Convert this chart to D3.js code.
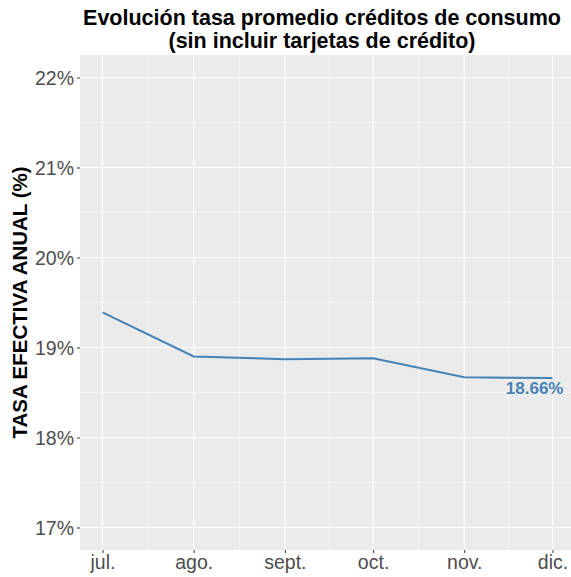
<!DOCTYPE html>
<html>
<head>
<meta charset="utf-8">
<script src="https://cdn.jsdelivr.net/npm/d3@7"></script>
<style>
  body { margin: 0; background: #fff; }
  text { font-family: "Liberation Sans", Arial, sans-serif; }
</style>
</head>
<body>
<div id="chart"></div>
<script>
// data
var months = ["2023-07-01", "2023-08-01", "2023-09-01", "2023-10-01", "2023-11-01", "2023-12-01"];
var monthLabels = ["jul.", "ago.", "sept.", "oct.", "nov.", "dic."];
var rates = [19.39, 18.90, 18.87, 18.88, 18.67, 18.66];
var yTicks = [17, 18, 19, 20, 21, 22];
var lastLabel = "18.66%";

var parse = d3.timeParse("%Y-%m-%d");
var dates = months.map(parse);

var width = 571, height = 577;
var margin = { top: 55, right: -4, bottom: 27, left: 80 };
var pw = width - margin.left - margin.right,
    ph = height - margin.top - margin.bottom;

var svg = d3.select("#chart")
            .append("svg")
            .attr("width", width)
            .attr("height", height);

// x: time scale with 5% expansion
var span = dates[dates.length - 1] - dates[0];
var x = d3.scaleTime()
          .domain([new Date(+dates[0] - span * 0.05), new Date(+dates[dates.length - 1] + span * 0.05)])
          .range([0, pw]);

var y = d3.scaleLinear()
          .domain([16.75, 22.25])
          .range([ph, 0]);

var g = svg.append("g")
           .attr("transform", "translate(" + margin.left + "," + margin.top + ")");

// panel
g.append("rect")
 .attr("width", pw)
 .attr("height", ph)
 .attr("fill", "#EBEBEB");

// minor grid
var minorY = d3.range(yTicks[0] - 0.5, yTicks[yTicks.length - 1] + 0.6, 1);
g.selectAll(".minor-y")
 .data(minorY)
 .enter()
 .append("line")
 .attr("x1", 0).attr("x2", pw)
 .attr("y1", function(d) { return y(d); })
 .attr("y2", function(d) { return y(d); })
 .attr("stroke", "#fff").attr("stroke-width", 0.55);

var minorX = [];
for (var i = 0; i < dates.length - 1; i++) {
  minorX.push(new Date((+dates[i] + +dates[i + 1]) / 2));
}
minorX.unshift(new Date(+dates[0] - (dates[1] - dates[0]) / 2));
minorX.push(new Date(+dates[dates.length - 1] + (dates[dates.length - 1] - dates[dates.length - 2]) / 2));
g.selectAll(".minor-x")
 .data(minorX)
 .enter()
 .append("line")
 .attr("y1", 0).attr("y2", ph)
 .attr("x1", function(d) { return x(d); })
 .attr("x2", function(d) { return x(d); })
 .attr("stroke", "#fff").attr("stroke-width", 0.55);

// major grid
g.selectAll(".major-y")
 .data(yTicks)
 .enter()
 .append("line")
 .attr("x1", 0).attr("x2", pw)
 .attr("y1", function(d) { return y(d); })
 .attr("y2", function(d) { return y(d); })
 .attr("stroke", "#fff").attr("stroke-width", 1.1);

g.selectAll(".major-x")
 .data(dates)
 .enter()
 .append("line")
 .attr("y1", 0).attr("y2", ph)
 .attr("x1", function(d) { return x(d); })
 .attr("x2", function(d) { return x(d); })
 .attr("stroke", "#fff").attr("stroke-width", 1.1);

// line
var line = d3.line()
             .x(function(d, i) { return x(dates[i]); })
             .y(function(d) { return y(d); });

g.append("path")
 .datum(rates)
 .attr("d", line)
 .attr("fill", "none")
 .attr("stroke", "steelblue")
 .attr("stroke-width", 2);

// label of last value
g.append("text")
 .attr("x", x(dates[dates.length - 1]) + 11)
 .attr("y", y(rates[rates.length - 1]) + 16)
 .attr("text-anchor", "end")
 .attr("fill", "steelblue")
 .attr("font-weight", "bold")
 .attr("font-size", "17px")
 .text(lastLabel);

// axes
var yAxis = d3.axisLeft(y)
              .tickValues(yTicks)
              .tickSize(3)
              .tickPadding(3)
              .tickFormat(function(d) { return d + "%"; });

var gy = g.append("g").call(yAxis);
gy.select(".domain").remove();
gy.selectAll(".tick line").attr("stroke", "#333");
gy.selectAll(".tick text")
  .attr("fill", "#4D4D4D")
  .attr("font-size", "19.5px")
  .attr("dy", "0.36em");

var xAxis = d3.axisBottom(x)
              .tickValues(dates)
              .tickSize(3)
              .tickPadding(2)
              .tickFormat(function(d, i) { return monthLabels[i]; });

var gx = g.append("g")
          .attr("transform", "translate(0," + ph + ")")
          .call(xAxis);
gx.select(".domain").remove();
gx.selectAll(".tick line").attr("stroke", "#333");
gx.selectAll(".tick text")
  .attr("fill", "#4D4D4D")
  .attr("font-size", "19.5px");

// titles
svg.append("text")
   .attr("x", 322)
   .attr("y", 25)
   .attr("text-anchor", "middle")
   .attr("font-weight", "bold")
   .attr("font-size", "21.5px")
   .text("Evolución tasa promedio créditos de consumo");

svg.append("text")
   .attr("x", 322)
   .attr("y", 48)
   .attr("text-anchor", "middle")
   .attr("font-weight", "bold")
   .attr("font-size", "21.5px")
   .text("(sin incluir tarjetas de crédito)");

svg.append("text")
   .attr("transform", "translate(27," + (margin.top + ph / 2) + ") rotate(-90)")
   .attr("text-anchor", "middle")
   .attr("font-weight", "bold")
   .attr("font-size", "20.5px")
   .text("TASA EFECTIVA ANUAL (%)");
</script>
</body>
</html>
